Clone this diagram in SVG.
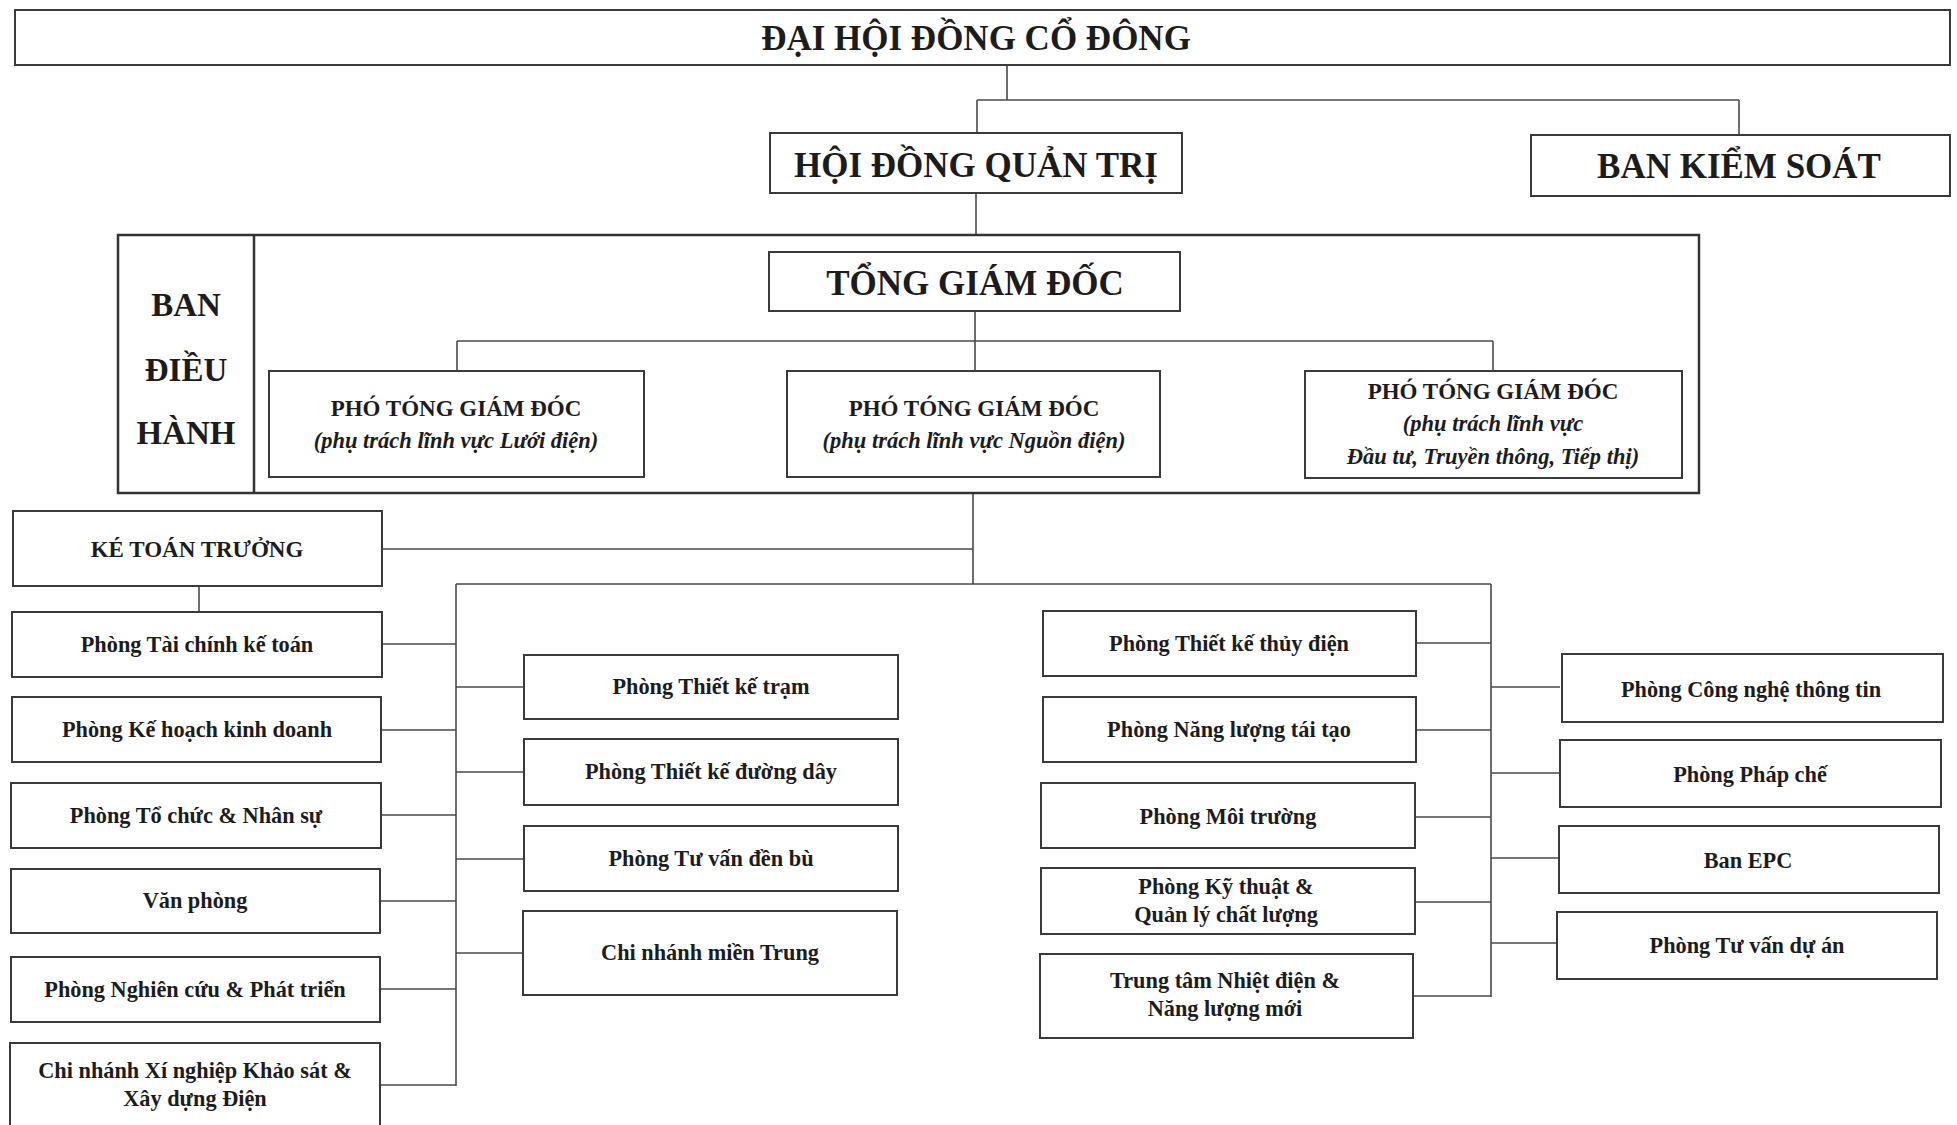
<svg xmlns="http://www.w3.org/2000/svg" width="1957" height="1125" viewBox="0 0 1957 1125">
<style>
.box{fill:#fff;stroke:#3a3a3a;stroke-width:2}
.frame{fill:none;stroke:#333;stroke-width:2.5}
.con{fill:none;stroke:#4a4a4a;stroke-width:1.6}
text{font-family:"Liberation Serif","Times New Roman",serif;font-weight:bold;fill:#1c1c1c;text-anchor:middle}
.t1{font-size:35px}
.t2{font-size:23px}
.it{font-size:22.5px;font-style:italic}
.d{font-size:22.3px}
</style>
<rect width="1957" height="1125" fill="#fff"/>
<g id="connectors">
<path class="con" d="M1007 65V100M977 100H1739M977 100V133M1739 100V135"/>
<path class="con" d="M976 193V235"/>
<path class="con" d="M975 311V371M457 341H1493M457 341V371M1493 341V371"/>
<path class="con" d="M973 493V584M382 549H973"/>
<path class="con" d="M199 586V612"/>
<path class="con" d="M456 584H1491M456 584V1086M1491 584V997"/>
<path class="con" d="M382 644H456M381 730H456M381 815H456M380 901H456M380 989H456M380 1085H456"/>
<path class="con" d="M456 687H524M456 772H524M456 859H524M456 953H524"/>
<path class="con" d="M1416 643H1491M1416 730H1491M1415 817H1491M1415 902H1491M1413 996H1491"/>
<path class="con" d="M1491 687H1560M1491 773H1560M1491 858H1560M1491 943H1560"/>
</g>
<g id="dhdcd"><rect class="box" x="15" y="10" width="1935" height="55"/><text class="t1" x="976" y="50">ĐẠI HỘI ĐỒNG CỔ ĐÔNG</text></g>
<g id="hdqt"><rect class="box" x="770" y="133" width="412" height="60"/><text class="t1" x="976" y="177">HỘI ĐỒNG QUẢN TRỊ</text></g>
<g id="bks"><rect class="box" x="1531" y="135" width="419" height="61"/><text class="t1" x="1739" y="178">BAN KIỂM SOÁT</text></g>
<g id="ban-dieu-hanh">
<rect class="frame" x="118" y="235" width="1581" height="258"/>
<path class="frame" d="M254 235V493"/>
<text class="t1" x="186" y="316" style="font-size:33px">BAN</text>
<text class="t1" x="186" y="381" style="font-size:33px">ĐIỀU</text>
<text class="t1" x="186" y="444" style="font-size:33px">HÀNH</text>
</g>
<g id="tgd"><rect class="box" x="769" y="252" width="411" height="59"/><text class="t1" x="975" y="295">TỔNG GIÁM ĐỐC</text></g>
<g id="ptgd1"><rect class="box" x="269" y="371" width="375" height="106"/><text class="t2" x="456" y="416">PHÓ TÓNG GIÁM ĐÓC</text><text class="it" x="456" y="448">(phụ trách lĩnh vực Lưới điện)</text></g>
<g id="ptgd2"><rect class="box" x="787" y="371" width="373" height="106"/><text class="t2" x="974" y="416">PHÓ TÓNG GIÁM ĐÓC</text><text class="it" x="974" y="448">(phụ trách lĩnh vực Nguồn điện)</text></g>
<g id="ptgd3"><rect class="box" x="1305" y="371" width="377" height="107"/><text class="t2" x="1493" y="399">PHÓ TÓNG GIÁM ĐÓC</text><text class="it" x="1493" y="431">(phụ trách lĩnh vực</text><text class="it" x="1493" y="464">Đầu tư, Truyền thông, Tiếp thị)</text></g>
<g id="ktt"><rect class="box" x="13" y="511" width="369" height="75"/><text class="t2" x="197" y="557">KÉ TOÁN TRƯỞNG</text></g>
<g id="p-tckt"><rect class="box" x="12" y="612" width="370" height="65"/><text class="d" x="197" y="652">Phòng Tài chính kế toán</text></g>
<g id="p-khkd"><rect class="box" x="12" y="697" width="369" height="65"/><text class="d" x="197" y="737">Phòng Kế hoạch kinh doanh</text></g>
<g id="p-tcns"><rect class="box" x="11" y="783" width="370" height="65"/><text class="d" x="196" y="823">Phòng Tổ chức &amp; Nhân sự</text></g>
<g id="van-phong"><rect class="box" x="11" y="869" width="369" height="64"/><text class="d" x="195" y="908">Văn phòng</text></g>
<g id="p-ncpt"><rect class="box" x="11" y="957" width="369" height="65"/><text class="d" x="195" y="997">Phòng Nghiên cứu &amp; Phát triển</text></g>
<g id="cn-xn"><rect class="box" x="10" y="1043" width="370" height="100"/><text class="d" x="195" y="1078">Chi nhánh Xí nghiệp Khảo sát &amp;</text><text class="d" x="195" y="1106">Xây dựng Điện</text></g>
<g id="p-tktram"><rect class="box" x="524" y="655" width="374" height="64"/><text class="d" x="711" y="694">Phòng Thiết kế trạm</text></g>
<g id="p-tkdd"><rect class="box" x="524" y="739" width="374" height="66"/><text class="d" x="711" y="779">Phòng Thiết kế đường dây</text></g>
<g id="p-tvdb"><rect class="box" x="524" y="826" width="374" height="65"/><text class="d" x="711" y="866">Phòng Tư vấn đền bù</text></g>
<g id="cn-mt"><rect class="box" x="523" y="911" width="374" height="84"/><text class="d" x="710" y="960">Chi nhánh miền Trung</text></g>
<g id="p-tktd"><rect class="box" x="1043" y="611" width="373" height="65"/><text class="d" x="1229" y="651">Phòng Thiết kế thủy điện</text></g>
<g id="p-nltt"><rect class="box" x="1043" y="697" width="373" height="65"/><text class="d" x="1229" y="737">Phòng Năng lượng tái tạo</text></g>
<g id="p-mt"><rect class="box" x="1041" y="783" width="374" height="65"/><text class="d" x="1228" y="824">Phòng Môi trường</text></g>
<g id="p-ktqlcl"><rect class="box" x="1041" y="868" width="374" height="66"/><text class="d" x="1226" y="894">Phòng Kỹ thuật &amp;</text><text class="d" x="1226" y="922">Quản lý chất lượng</text></g>
<g id="tt-nd"><rect class="box" x="1040" y="954" width="373" height="84"/><text class="d" x="1225" y="988">Trung tâm Nhiệt điện &amp;</text><text class="d" x="1225" y="1016">Năng lượng mới</text></g>
<g id="p-cntt"><rect class="box" x="1562" y="654" width="381" height="68"/><text class="d" x="1751" y="697">Phòng Công nghệ thông tin</text></g>
<g id="p-pc"><rect class="box" x="1560" y="740" width="381" height="67"/><text class="d" x="1750" y="782">Phòng Pháp chế</text></g>
<g id="ban-epc"><rect class="box" x="1559" y="826" width="380" height="67"/><text class="d" x="1748" y="868">Ban EPC</text></g>
<g id="p-tvda"><rect class="box" x="1557" y="912" width="380" height="67"/><text class="d" x="1747" y="953">Phòng Tư vấn dự án</text></g>
</svg>
